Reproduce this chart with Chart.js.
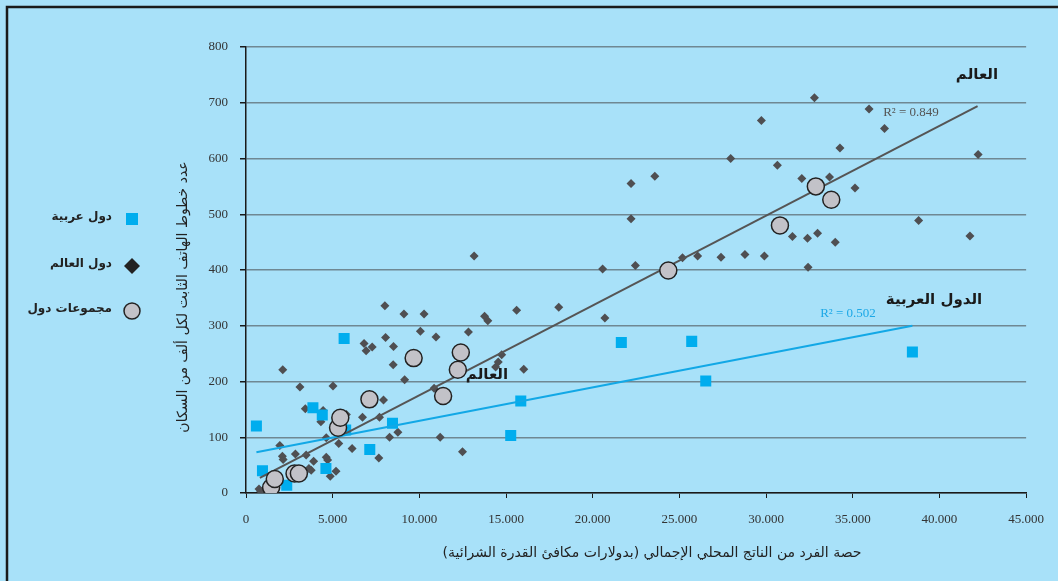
<!DOCTYPE html>
<html>
<head>
<meta charset="utf-8">
<script src="https://cdn.jsdelivr.net/npm/chart.js@4.4.1/dist/chart.umd.min.js"></script>
<style>
  html, body { margin: 0; padding: 0; background: #a8e1f9; }
</style>
</head>
<body>
<canvas id="myChart" width="1058" height="581"></canvas>
<script>
// world countries (GDP per capita PPP, fixed lines per 1000)
var worldX = [750, 850, 1950, 2100, 2140, 2120, 2850, 3110, 3420, 3470, 3630, 3760, 3900, 4320, 4450,
  4630, 4710, 4630, 4860, 5020, 5190, 5350, 5790, 6120, 6720, 6810, 6930, 7280, 7660, 7700,
  7930, 8010, 8050, 8280, 8490, 8510, 8760, 9110, 9150, 10060, 10270, 10850, 10960, 11200, 12490,
  12830, 13160, 13760, 13950, 14400, 14550, 14750, 15610, 16020, 18040, 20570, 20700, 22210, 22210, 22460,
  23580, 25180, 26050, 27400, 27960, 28780, 29730, 29900, 30650, 31520, 32060, 32390, 32420, 32790, 32970,
  33660, 33990, 34260, 35130, 35940, 36830, 38800, 41760, 42230];
var worldY = [7, 3, 85, 66, 60, 221, 70, 190, 151, 68, 44, 41, 57, 128, 148,
  64, 59, 99, 30, 192, 39, 89, 141, 80, 136, 268, 255, 262, 63, 136,
  167, 336, 279, 100, 230, 263, 109, 321, 203, 290, 321, 188, 280, 100, 74,
  289, 425, 317, 309, 226, 235, 248, 328, 222, 333, 402, 314, 555, 492, 408,
  568, 422, 425, 423, 600, 428, 668, 425, 588, 460, 564, 457, 405, 709, 466,
  567, 450, 619, 547, 689, 654, 489, 461, 607];

// arab countries
var arabX = [600, 950, 2350, 3860, 4400, 4610, 5660, 5750, 7140, 8450, 15270, 15850, 21650, 25710, 26520, 38440];
var arabY = [120, 40, 14, 153, 140, 44, 277, 113, 78, 125, 103, 165, 270, 272, 201, 253];

// country groups
var groupX = [1450, 1660, 2800, 3050, 5310, 5440, 7120, 9670, 11370, 12220, 12390, 24360, 30800, 32870, 33760];
var groupY = [10, 25, 35, 35, 117, 135, 168, 242, 174, 221, 252, 399, 480, 550, 526];

// trend lines (start / end)
var worldTrendX = [800, 42200];
var worldTrendY = [27, 694];
var arabTrendX = [600, 38440];
var arabTrendY = [73, 300];
var worldR2 = 'R² = 0.849';
var arabR2 = 'R² = 0.502';

var legendLabels = ['دول عربية', 'دول العالم', 'مجموعات دول'];
var yTitle = 'عدد خطوط الهاتف الثابت لكل ألف من السكان';
var xTitle = 'حصة الفرد من الناتج المحلي الإجمالي (بدولارات مكافئ القدرة الشرائية)';

function toPoints(xs, ys) {
  var pts = [];
  for (var i = 0; i < xs.length; i++) pts.push({ x: xs[i], y: ys[i] });
  return pts;
}

var arFont = '"DejaVu Sans", sans-serif';
var serifFont = '"Liberation Serif", "DejaVu Serif", serif';

var extras = {
  id: 'extras',
  beforeDraw: function (chart) {
    var c = chart.ctx;
    c.save();
    c.fillStyle = '#a8e1f9';
    c.fillRect(0, 0, chart.width, chart.height);
    c.strokeStyle = '#1a1a1a';
    c.lineWidth = 2.5;
    c.beginPath();
    c.moveTo(7, chart.height);
    c.lineTo(7, 7);
    c.lineTo(chart.width, 7);
    c.stroke();
    c.restore();
  },
  afterDraw: function (chart) {
    var c = chart.ctx;
    var xs = chart.scales.x, ys = chart.scales.y;
    c.save();
    // legend
    var ly = [219, 266, 311];
    c.font = 'bold 12px ' + arFont;
    c.textAlign = 'right';
    c.textBaseline = 'middle';
    c.fillStyle = '#222';
    for (var i = 0; i < legendLabels.length; i++) {
      c.fillText(legendLabels[i], 112, ly[i] - 2);
    }
    c.fillStyle = '#00adee';
    c.fillRect(126, ly[0] - 6, 12, 12);
    c.fillStyle = '#222';
    c.beginPath();
    c.moveTo(132, ly[1] - 8); c.lineTo(140, ly[1]); c.lineTo(132, ly[1] + 8); c.lineTo(124, ly[1]);
    c.closePath(); c.fill();
    c.fillStyle = '#c2c2c8';
    c.strokeStyle = '#222';
    c.lineWidth = 1.5;
    c.beginPath(); c.arc(132, ly[2], 8, 0, Math.PI * 2); c.fill(); c.stroke();

    // series labels
    c.textAlign = 'center';
    c.fillStyle = '#1a1a1a';
    c.font = 'bold 15px ' + arFont;
    c.fillText('العالم', 977, 75);
    c.fillText('الدول العربية', 934, 300);
    c.fillText('العالم', 487, 375);
    c.font = '13px ' + serifFont;
    c.fillStyle = '#555';
    c.fillText(worldR2, 911, 113);
    c.fillStyle = '#1ca8e6';
    c.fillText(arabR2, 848, 314);

    // axis titles
    c.fillStyle = '#222';
    c.font = '14px ' + arFont;
    c.fillText(xTitle, 652, 553);
    c.translate(183, 297);
    c.rotate(-Math.PI / 2);
    c.fillText(yTitle, 0, 0);
    c.restore();
  }
};

var ctx = document.getElementById('myChart');
var myChart = new Chart(ctx, {
  type: 'scatter',
  data: {
    datasets: [
      {
        label: legendLabels[1],
        data: toPoints(worldX, worldY),
        pointStyle: 'rectRot',
        pointRadius: 4.5,
        backgroundColor: '#4f4f52',
        borderWidth: 0,
        order: 5
      },
      {
        label: legendLabels[0],
        data: toPoints(arabX, arabY),
        pointStyle: 'rect',
        pointRadius: 7.8,
        backgroundColor: '#00adee',
        borderWidth: 0,
        order: 4
      },
      {
        label: 'trend world',
        data: toPoints(worldTrendX, worldTrendY),
        showLine: true,
        pointRadius: 0,
        borderColor: '#555555',
        borderWidth: 2,
        order: 3
      },
      {
        label: 'trend arab',
        data: toPoints(arabTrendX, arabTrendY),
        showLine: true,
        pointRadius: 0,
        borderColor: '#12a8e6',
        borderWidth: 2,
        order: 2
      },
      {
        label: legendLabels[2],
        data: toPoints(groupX, groupY),
        pointStyle: 'circle',
        pointRadius: 8.5,
        backgroundColor: '#c2c2c8',
        borderColor: '#222222',
        borderWidth: 1.5,
        order: 1
      }
    ]
  },
  options: {
    responsive: false,
    animation: false,
    devicePixelRatio: 1,
    layout: { padding: { left: 0, right: 31, top: 47, bottom: 0 } },
    plugins: {
      legend: { display: false },
      tooltip: { enabled: false }
    },
    scales: {
      x: {
        type: 'linear',
        min: 0,
        max: 45000,
        afterFit: function (scale) { scale.height = 88; },
        border: { color: '#1a1a1a', width: 1.5 },
        grid: { drawOnChartArea: false, drawTicks: true, tickLength: 5, tickColor: '#1a1a1a' },
        ticks: {
          stepSize: 5000,
          padding: 14,
          color: '#333',
          font: { family: serifFont, size: 13 },
          callback: function (v) { return v === 0 ? '0' : (v / 1000).toFixed(3); }
        }
      },
      y: {
        min: 0,
        max: 800,
        afterFit: function (scale) { scale.width = 246; },
        border: { color: '#1a1a1a', width: 1.5 },
        grid: { color: '#6f8893', lineWidth: 1.5, tickLength: 6, tickColor: '#1a1a1a' },
        ticks: {
          stepSize: 100,
          padding: 12,
          color: '#333',
          font: { family: serifFont, size: 13 }
        }
      }
    }
  },
  plugins: [extras]
});
</script>
</body>
</html>
